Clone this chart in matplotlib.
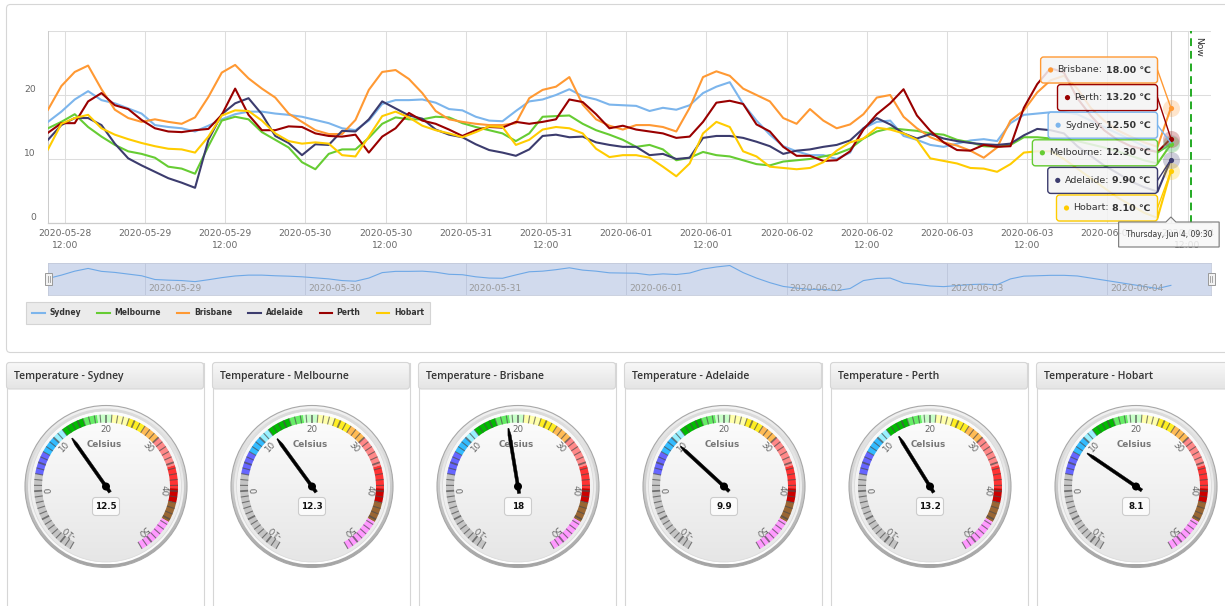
import numpy as np
import matplotlib
matplotlib.use('Agg')
import matplotlib.pyplot as plt
import matplotlib.dates as mdates
from matplotlib.patches import Circle, Wedge, FancyBboxPatch, Rectangle, Polygon
from matplotlib.collections import LineCollection
from matplotlib.colors import LinearSegmentedColormap, to_rgba

W, H = 1225, 606
plt.rcParams['font.family'] = ['DejaVu Sans', 'Noto Sans CJK SC']

cities = ['Sydney', 'Melbourne', 'Brisbane', 'Adelaide', 'Perth', 'Hobart']
colors = ['#7cb5ec', '#66cc33', '#ff9933', '#3c3c6e', '#990000', '#ffcc00']

# temperatures every two hours, 2020-05-28 09:30 .. 2020-06-04 09:30 (deg C)
sydney = [15.8, 17.4, 19.3, 20.6, 19.2, 18.7, 17.9, 17.1, 15.3, 15.0,
          14.8, 14.3, 15.2, 16.2, 17.0, 17.4, 17.4, 17.1, 16.9, 16.6,
          16.1, 15.6, 14.8, 14.5, 16.0, 18.6, 19.2, 19.2, 19.3, 18.8,
          17.8, 17.6, 16.6, 16.0, 15.9, 17.5, 19.0, 19.3, 20.0, 20.9,
          19.8, 19.3, 18.5, 18.4, 18.3, 17.5, 18.0, 17.7, 18.4, 20.3,
          21.3, 22.0, 18.6, 16.0, 13.8, 12.0, 11.2, 10.6, 10.6, 10.0,
          11.0, 14.8, 15.8, 16.0, 13.6, 13.0, 12.2, 11.9, 12.4, 12.9,
          13.1, 12.8, 15.6, 16.9, 17.1, 17.3, 17.3, 17.0, 16.0, 15.0,
          14.0, 13.0, 12.0, 11.0, 12.5]
melbourne = [14.8, 15.8, 17.0, 15.0, 13.5, 12.2, 11.2, 10.8, 10.2, 8.8,
             8.5, 7.7, 12.0, 16.0, 16.6, 16.2, 14.2, 13.0, 11.8, 9.5,
             8.4, 10.8, 11.5, 11.5, 13.3, 15.5, 16.5, 16.2, 16.2, 16.6,
             16.5, 15.6, 15.0, 14.5, 14.0, 12.8, 14.0, 16.6, 16.7, 16.8,
             15.5, 14.5, 13.8, 13.0, 11.9, 12.2, 11.5, 9.8, 10.2, 11.1,
             10.6, 10.4, 9.8, 9.2, 9.0, 9.6, 9.8, 10.0, 10.4, 10.8,
             11.6, 13.2, 14.3, 14.8, 14.6, 14.4, 14.0, 13.8, 13.0, 12.6,
             12.0, 11.9, 12.2, 13.4, 13.4, 13.2, 13.0, 12.8, 12.3, 11.8,
             11.2, 10.5, 9.8, 9.3, 12.3]
brisbane = [17.7, 21.4, 23.6, 24.6, 20.9, 17.7, 16.4, 15.8, 16.2, 15.8,
            15.5, 16.5, 19.7, 23.5, 24.7, 22.6, 21.0, 19.6, 17.1, 15.8,
            14.5, 13.9, 13.9, 16.1, 20.8, 23.6, 23.9, 22.5, 20.3, 17.5,
            16.2, 15.8, 15.5, 15.3, 15.3, 15.6, 19.5, 20.8, 21.3, 22.8,
            18.5, 16.2, 15.2, 14.6, 15.3, 15.3, 15.0, 14.3, 18.0, 22.8,
            23.7, 23.0, 21.0, 20.0, 19.0, 16.4, 15.5, 17.8, 16.0, 14.8,
            15.4, 17.0, 19.6, 20.0, 16.6, 14.8, 13.4, 12.6, 12.1, 11.3,
            10.2, 11.8, 16.0, 17.6, 20.4, 22.3, 23.0, 21.0, 18.0, 16.0,
            14.5, 13.5, 12.6, 11.9, 18.0]
adelaide = [13.0, 15.3, 16.4, 16.4, 15.3, 12.4, 10.1, 9.0, 8.0, 7.0,
            6.3, 5.5, 13.0, 17.0, 18.7, 19.5, 17.0, 13.6, 12.5, 10.6,
            12.3, 12.2, 14.4, 14.3, 16.2, 19.0, 17.9, 16.8, 16.3, 14.6,
            13.8, 13.4, 12.3, 11.4, 11.0, 10.5, 11.5, 13.6, 13.8, 13.4,
            13.5, 12.6, 12.2, 11.9, 11.9, 10.6, 10.8, 10.0, 10.2, 13.3,
            13.6, 13.6, 13.3, 12.7, 12.0, 10.8, 11.3, 11.5, 11.9, 12.2,
            12.9, 14.8, 16.4, 15.4, 14.0, 13.2, 13.9, 13.2, 12.8, 12.5,
            12.3, 12.2, 12.4, 13.7, 14.7, 14.5, 14.0, 12.0, 10.5, 9.0,
            7.8, 6.5, 5.6, 4.9, 9.9]
perth = [14.1, 15.6, 15.6, 19.0, 20.3, 18.4, 17.8, 16.1, 14.8, 14.3,
         14.2, 14.5, 14.7, 16.9, 21.0, 16.9, 14.5, 14.5, 15.1, 15.0,
         14.0, 13.6, 13.5, 13.8, 11.0, 13.5, 14.8, 17.2, 16.0, 15.5,
         14.6, 13.6, 14.5, 15.0, 14.9, 15.8, 15.5, 15.8, 16.2, 19.3,
         18.9, 17.0, 14.8, 15.2, 14.6, 14.3, 14.0, 13.3, 13.5, 15.8,
         18.8, 19.1, 18.6, 15.4, 14.3, 11.9, 10.5, 10.5, 9.7, 9.8,
         11.2, 14.6, 17.0, 18.7, 20.9, 16.8, 14.4, 12.6, 11.4, 11.3,
         12.2, 11.9, 12.0, 18.0, 21.7, 24.2, 23.5, 19.5, 16.8, 14.5,
         13.0, 12.0, 11.5, 11.1, 13.2]
hobart = [11.5, 15.5, 16.4, 16.9, 14.8, 13.8, 13.1, 12.5, 12.0, 11.6,
          11.5, 11.0, 13.5, 16.8, 17.6, 17.5, 16.0, 14.0, 12.8, 12.4,
          12.6, 12.4, 10.6, 10.4, 13.5, 16.7, 17.4, 16.5, 15.2, 14.5,
          14.0, 13.4, 14.2, 15.1, 15.0, 12.2, 13.0, 14.6, 15.0, 14.8,
          14.0, 11.6, 10.3, 10.6, 10.6, 10.2, 8.8, 7.3, 9.3, 14.0,
          15.8, 15.0, 11.2, 10.4, 8.8, 8.6, 8.4, 8.6, 9.5, 11.3,
          12.6, 13.2, 14.9, 14.6, 14.0, 13.0, 10.1, 9.7, 9.3, 8.6,
          8.5, 8.0, 9.2, 11.0, 11.2, 11.2, 10.0, 8.5, 7.0, 5.5,
          4.0, 2.8, 1.6, 0.8, 8.1]
series = [sydney, melbourne, brisbane, adelaide, perth, hobart]

times = np.arange(np.datetime64('2020-05-28T09:30'), np.datetime64('2020-06-04T09:31'),
                  np.timedelta64(2, 'h'))
now = np.datetime64('2020-06-04T12:30')
x_start, x_end = np.datetime64('2020-05-28T09:30'), np.datetime64('2020-06-04T15:30')

# gauge scale and colour bands
gauge_min, gauge_max = -12, 52
gauge_labels = [-10, 0, 10, 20, 30, 40, 50]
band_from = [-12, 3, 7, 10, 12, 16, 18.5, 21, 24, 27, 30, 35.5, 39.5, 42, 45.5]
band_to = [3, 7, 10, 12, 16, 18.5, 21, 24, 27, 30, 35.5, 39.5, 42, 45.5, 52]
band_colors = ['#c4c4c4', '#6666ff', '#33bbff', '#99f0ff', '#00bb00', '#66ee66', '#c8ffc8',
               '#ffffaa', '#ffee22', '#ffbb55', '#ff8888', '#ff3333', '#cc0000', '#996633',
               '#ff99ff']


def fy(y):
    return H - y


def gradient(axis, extent, c_top, c_bottom, clip, z):
    cmap = LinearSegmentedColormap.from_list('grad', [c_top, c_bottom])
    im = axis.imshow(np.linspace(0, 1, 128).reshape(-1, 1), cmap=cmap, extent=extent,
                     origin='upper', aspect='auto', interpolation='bilinear', zorder=z)
    im.set_clip_path(clip)
    return im


fig = plt.figure(figsize=(W / 100, H / 100), dpi=100)
fig.patch.set_facecolor('white')

bg = fig.add_axes([0, 0, 1, 1], zorder=0)
bg.set_xlim(0, W)
bg.set_ylim(0, H)
bg.set_autoscale_on(False)
bg.axis('off')

# chart panel
bg.add_patch(FancyBboxPatch((6.5, fy(352.5)), 1250, 348, boxstyle='round,pad=0,rounding_size=4',
                            fc='white', ec='#d6d6d6', lw=0.8, zorder=1))

# ---- main chart ----
ax = fig.add_axes([48 / W, fy(223) / H, 1163 / W, 192 / H], zorder=2)
ax.set_facecolor('none')
lines = []
for name, vals, col in zip(cities, series, colors):
    ln, = ax.plot(times, vals, color=col, lw=1.5, label=name, zorder=3)
    lines.append(ln)

ax.set_xlim(x_start, x_end)
ax.set_ylim(0, 30)
ax.set_yticks([0, 10, 20, 30])
ax.set_yticklabels([])
ticks = np.arange(np.datetime64('2020-05-28T12:00'), np.datetime64('2020-06-04T12:01'),
                  np.timedelta64(12, 'h'))
tick_labels = []
for t in ticks.astype('datetime64[m]').tolist():
    tick_labels.append(f'{t:%Y-%m-%d}' + ('\n12:00' if t.hour == 12 else ''))
ax.set_xticks(ticks)
ax.set_xticklabels(tick_labels, fontsize=6.6, color='#666666', linespacing=1.45)
ax.tick_params(length=0)
ax.tick_params(axis='x', pad=4.5)
ax.grid(True, color='#dddddd', lw=0.75)
ax.set_axisbelow(True)
for side in ['top', 'right']:
    ax.spines[side].set_visible(False)
ax.spines['left'].set_color('#cccccc')
ax.spines['bottom'].set_color('#cccccc')
ax.spines['left'].set_linewidth(0.75)
ax.spines['bottom'].set_linewidth(0.9)
for v in [0, 10, 20]:
    ax.annotate(str(v), xy=(0, v), xycoords=('axes fraction', 'data'), xytext=(-12, 5),
                textcoords='offset pixels', ha='right', va='center', fontsize=6.6, color='#666666')

# "Now" marker and hover crosshair
ax.axvline(now, color='#22aa22', lw=1.4, ls=(0, (4, 2.5)), zorder=4)
ax.annotate('Now', xy=(now, 1), xycoords=('data', 'axes fraction'), xytext=(3, -6),
            textcoords='offset pixels', rotation=-90, ha='left', va='top', fontsize=6.6,
            color='#333333')
ax.axvline(times[-1], color='#cccccc', lw=0.8, zorder=2.5)
for vals, col in zip(series, colors):
    ax.scatter([times[-1]], [vals[-1]], s=150, color=col, alpha=0.25, lw=0, zorder=5, clip_on=False)
    ax.scatter([times[-1]], [vals[-1]], s=14, color=col, lw=0, zorder=6, clip_on=False)

# ---- navigator ----
nav = fig.add_axes([48 / W, fy(295) / H, 1163 / W, 32 / H], zorder=2)
nav.set_facecolor('#d1daed')
nav.plot(times, sydney, color='#6ea8e6', lw=0.8)
nav.set_xlim(x_start, x_end)
nav.set_ylim(7.9, 23.2)
days = np.arange(np.datetime64('2020-05-29'), np.datetime64('2020-06-05'), np.timedelta64(1, 'D'))
nav.set_xticks(days)
nav.set_yticks([])
nav.tick_params(length=0, labelbottom=False)
nav.grid(True, axis='x', color='#bcc5da', lw=0.6)
for d in days.astype('datetime64[D]').tolist():
    nav.annotate(f'{d:%Y-%m-%d}', xy=(np.datetime64(d), 0), xycoords=('data', 'axes fraction'),
                 xytext=(3, 1.5), textcoords='offset pixels', ha='left', va='bottom',
                 fontsize=6.6, color='#9a9a9a')
for s in nav.spines.values():
    s.set_color('#c3cadb')
    s.set_linewidth(0.6)

# legend
leg = fig.legend(handles=lines, loc='upper left', bbox_to_anchor=(26 / W, fy(302) / H),
                 ncol=6, frameon=True, fancybox=False, borderaxespad=0, borderpad=0.85,
                 handlelength=1.6, handletextpad=0.65, columnspacing=2.1,
                 prop={'weight': 'bold', 'size': 5.5}, labelcolor='#333333')
leg.get_frame().set_facecolor('#e6e6e6')
leg.get_frame().set_edgecolor('#cccccc')
leg.get_frame().set_linewidth(0.8)

# ---- gauge panels ----
def ang(v):
    return -150 + (v - gauge_min) / (gauge_max - gauge_min) * 300


def draw_gauge(cx, cy, value):
    rim = Circle((cx, cy), 81, fc='none', ec='#a8a8a8', lw=0.8, zorder=3)
    bg.add_patch(rim)
    gradient(bg, (cx - 81, cx + 81, cy - 81, cy + 81), '#f4f4f4', '#a4a4a4', rim, 2.9)
    inner = Circle((cx, cy), 78, fc='none', ec='none', zorder=3.1)
    bg.add_patch(inner)
    gradient(bg, (cx - 78, cx + 78, cy - 78, cy + 78), '#dadada', '#ffffff', inner, 3.05)
    face = Circle((cx, cy), 75.5, fc='none', ec='#d8d8d8', lw=0.5, zorder=3.3)
    bg.add_patch(face)
    gradient(bg, (cx - 75.5, cx + 75.5, cy - 75.5, cy + 75.5), '#fdfdfd', '#e6e6e6', face, 3.2)

    for v1, v2, c in zip(band_from, band_to, band_colors):
        bg.add_patch(Wedge((cx, cy), 72, 90 - ang(v2), 90 - ang(v1), width=8, fc=c, ec='none',
                           zorder=4))
    segs, widths = [], []
    for v in range(gauge_min, gauge_max + 1):
        th = np.radians(ang(v))
        u = np.array([np.sin(th), np.cos(th)])
        segs.append([(cx + 64 * u[0], cy + 64 * u[1]), (cx + 72 * u[0], cy + 72 * u[1])])
        widths.append(1.3 if v % 5 == 0 else 0.8)
    bg.add_collection(LineCollection(segs, linewidths=widths, colors=[(0.3, 0.3, 0.3, 0.7)],
                                     zorder=4.5))
    for v in gauge_labels:
        th = np.radians(ang(v))
        bg.text(cx + 57.5 * np.sin(th), cy + 57.5 * np.cos(th), str(v), rotation=-ang(v),
                rotation_mode='anchor', ha='center', va='center', fontsize=6.3,
                color='#666666', zorder=5)
    bg.text(cx - 2, cy + 42, 'Celsius', ha='center', va='center', fontsize=6.3,
            fontweight='bold', color='#777777', zorder=5)

    bg.add_patch(FancyBboxPatch((cx - 13.5, cy - 29), 27, 18, boxstyle='round,pad=0,rounding_size=3',
                                fc='#fbfbfb', ec='#cccccc', lw=0.8, zorder=5.5))
    bg.text(cx, cy - 20, f'{value:g}', ha='center', va='center', fontsize=6.3,
            fontweight='bold', color='#111111', zorder=5.6)

    th = np.radians(ang(value))
    u = np.array([np.sin(th), np.cos(th)])
    n = np.array([np.cos(th), -np.sin(th)])
    shape = [(-7, -1.6), (52, -1.6), (59, -0.5), (59, 0.5), (52, 1.6), (-7, 1.6)]
    pts = [(cx + a * u[0] + b * n[0], cy + a * u[1] + b * n[1]) for a, b in shape]
    bg.add_patch(Polygon(pts, closed=True, fc='black', ec='black', lw=0.3, zorder=6))
    bg.add_patch(Circle((cx, cy), 4, fc='black', ec='none', zorder=6.1))


for k, (name, vals) in enumerate(zip(cities, series)):
    x0 = 6.5 + 206 * k
    bg.add_patch(Rectangle((x0, -5), 197, fy(362.5) + 5, fc='white', ec='#d6d6d6', lw=0.8,
                           zorder=1))
    hdr = FancyBboxPatch((x0, fy(389)), 197, 26.5, boxstyle='round,pad=0,rounding_size=3',
                         fc='none', ec='#d6d6d6', lw=0.8, zorder=2)
    bg.add_patch(hdr)
    gradient(bg, (x0, x0 + 197, fy(389), fy(362.5)), '#f8f8f8', '#e4e4e4', hdr, 1.5)
    bg.text(x0 + 8, fy(376), f'Temperature - {name}', ha='left', va='center', fontsize=7.5,
            family='Open Sans', fontweight='semibold', color='#333333', zorder=3)
    draw_gauge(x0 + 99.5, fy(486.5), vals[-1])

# ---- split tooltip ----
ov = fig.add_axes([0, 0, 1, 1], zorder=10)
ov.set_xlim(0, W)
ov.set_ylim(0, H)
ov.set_autoscale_on(False)
ov.axis('off')
renderer = fig.canvas.get_renderer()

last_x = mdates.date2num(times[-1])
order = sorted(range(len(cities)), key=lambda i: -series[i][-1])
right = 1157.5
for rank, i in enumerate(order):
    top = 195 - (len(order) - 1 - rank) * 27.6
    mid = fy(top + 13)
    val = series[i][-1]
    px, py = ax.transData.transform((last_x, val))
    tv = ov.text(right - 7, mid, f'{val:.2f} ℃', ha='right', va='center', fontsize=6.8,
                 fontweight='bold', color='#333333', zorder=13)
    wv = tv.get_window_extent(renderer).width
    tn = ov.text(right - 10 - wv, mid, f'{cities[i]}:', ha='right', va='center', fontsize=6.8,
                 color='#333333', zorder=13)
    wn = tn.get_window_extent(renderer).width
    dot_x = right - 10 - wv - wn - 7
    ov.add_patch(Circle((dot_x, mid), 2.6, fc=colors[i], ec='none', zorder=13))
    left = dot_x - 10
    ov.add_patch(FancyBboxPatch((left + 1, fy(top + 26) - 1), right - left, 26,
                                boxstyle='round,pad=0,rounding_size=3', fc=(0, 0, 0, 0.07),
                                ec='none', zorder=11))
    ov.plot([right, px], [mid, py], color=colors[i], lw=1, zorder=11.5)
    ov.add_patch(FancyBboxPatch((left, fy(top + 26)), right - left, 26,
                                boxstyle='round,pad=0,rounding_size=3',
                                fc=to_rgba('#f7f7f7', 0.85), ec=colors[i], lw=1, zorder=12))

# date header under the crosshair
px, _ = ax.transData.transform((last_x, 0))
dt = times[-1].astype('datetime64[m]').item()
td = ov.text(px - 2, fy(234.5), f'{dt:%A, %b} {dt.day}, {dt:%H:%M}', ha='center', va='center',
             fontsize=5.5, color='#333333', zorder=13)
wd = td.get_window_extent(renderer).width
bl, br = px - 2 - wd / 2 - 7, px - 2 + wd / 2 + 7
bt, bb = fy(222), fy(247)
ov.add_patch(Polygon([(bl, bt), (px - 5, bt), (px, bt + 5), (px + 5, bt), (br, bt), (br, bb), (bl, bb)],
                     closed=True, fc=to_rgba('#f7f7f7', 0.85), ec='#777777', lw=0.8, zorder=12))

# navigator handles
for hx in (48.5, 1211):
    ov.add_patch(Rectangle((hx - 3.5, fy(285)), 7, 12, fc='#f2f2f2', ec='#999999', lw=0.7,
                           zorder=11))
    ov.plot([hx - 1, hx - 1], [fy(282), fy(276)], color='#999999', lw=0.6, zorder=12)
    ov.plot([hx + 1, hx + 1], [fy(282), fy(276)], color='#999999', lw=0.6, zorder=12)

fig.savefig('out.png', dpi=100, facecolor='white')
